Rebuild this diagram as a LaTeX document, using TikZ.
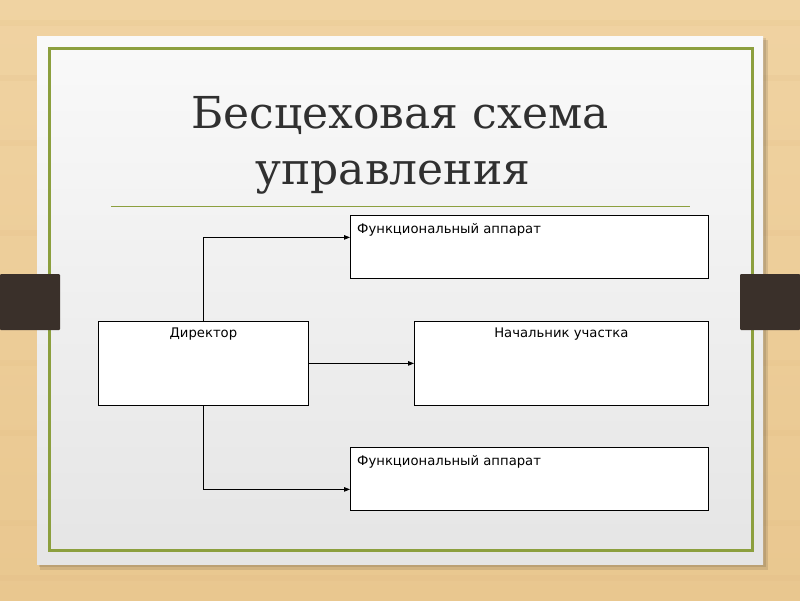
\documentclass[tikz,border=0pt]{standalone}
\usepackage{fontspec}
\setmainfont{DejaVu Sans}
\newfontfamily\titlefont{DejaVu Serif}
\usetikzlibrary{arrows.meta,positioning}

\definecolor{wood}{HTML}{E9C78F}
\definecolor{woodlight}{HTML}{F0D3A2}
\definecolor{slidegrey}{HTML}{F1F1F1}
\definecolor{framegreen}{HTML}{8C9F3E}
\definecolor{clipbrown}{HTML}{3A302A}
\definecolor{titlegrey}{HTML}{303030}

\begin{document}
\begin{tikzpicture}
        [x=1pt, y=-1pt,
        box/.style={draw, thick, fill=white, minimum width=#1, anchor=north west, inner sep=0pt},
        box/.default=358pt,
        conn/.style={thick, -{Triangle[length=6pt,width=4.5pt]}},
        boxtext/.style={font=\fontsize{13.2}{15}\selectfont, inner sep=0pt}]

        % wooden table and the slide
        \useasboundingbox (0,0) rectangle (800,600);
        \shade[top color=woodlight, bottom color=wood] (0,0) rectangle (800,600);
        \foreach \y in {20,75,140,230,360,430,520,575}
            \fill[wood!80!brown, opacity=0.15] (0,\y) rectangle (800,\y+6);
        \fill[black, opacity=0.10] (40,40) rectangle (768,570);
        \fill[black, opacity=0.10] (39,38) rectangle (766,567);
        \shade[top color=white!60!slidegrey, bottom color=slidegrey!95!black] (37,36) rectangle (763,564);
        \draw[framegreen, line width=3pt] (49,48) rectangle (752,550);

        % clips on both sides
        \fill[clipbrown, rounded corners=1pt] (0,274) rectangle (60,330);
        \fill[clipbrown, rounded corners=1pt] (740,274) rectangle (800,330);

        % title
        \node[font=\titlefont\fontsize{44}{56}\selectfont, text=titlegrey, align=center] (title) at (400,145)
            {Бесцеховая схема\\управления\hspace*{14pt}};
        \draw[framegreen, thick] (111,206) -- (690,206);

        % boxes
        \node[box, minimum height=63pt] (fa1) at (350,215) {};
        \node[box=210pt, minimum height=84pt] (dir) at (98,321) {};
        \node[box=294pt, minimum height=84pt] (head) at (414,321) {};
        \node[box, minimum height=63pt] (fa2) at (350,447) {};

        \node[boxtext, anchor=north west] (fa1txt) at ([xshift=7pt, yshift=-8pt]fa1.north west) {Функциональный аппарат};
        \node[boxtext, anchor=north] (dirtxt) at ([yshift=-7pt]dir.north) {Директор};
        \node[boxtext, anchor=north] (headtxt) at ([yshift=-7pt]head.north) {Начальник участка};
        \node[boxtext, anchor=north west] (fa2txt) at ([xshift=7pt, yshift=-8pt]fa2.north west) {Функциональный аппарат};

        % connectors
        \draw[conn] (dir.north) |- ([yshift=9.5pt]fa1.west);
        \draw[conn] (dir.east) -- (head.west);
        \draw[conn] (dir.south) |- ([yshift=-10.5pt]fa2.west);
\end{tikzpicture}
\end{document}
